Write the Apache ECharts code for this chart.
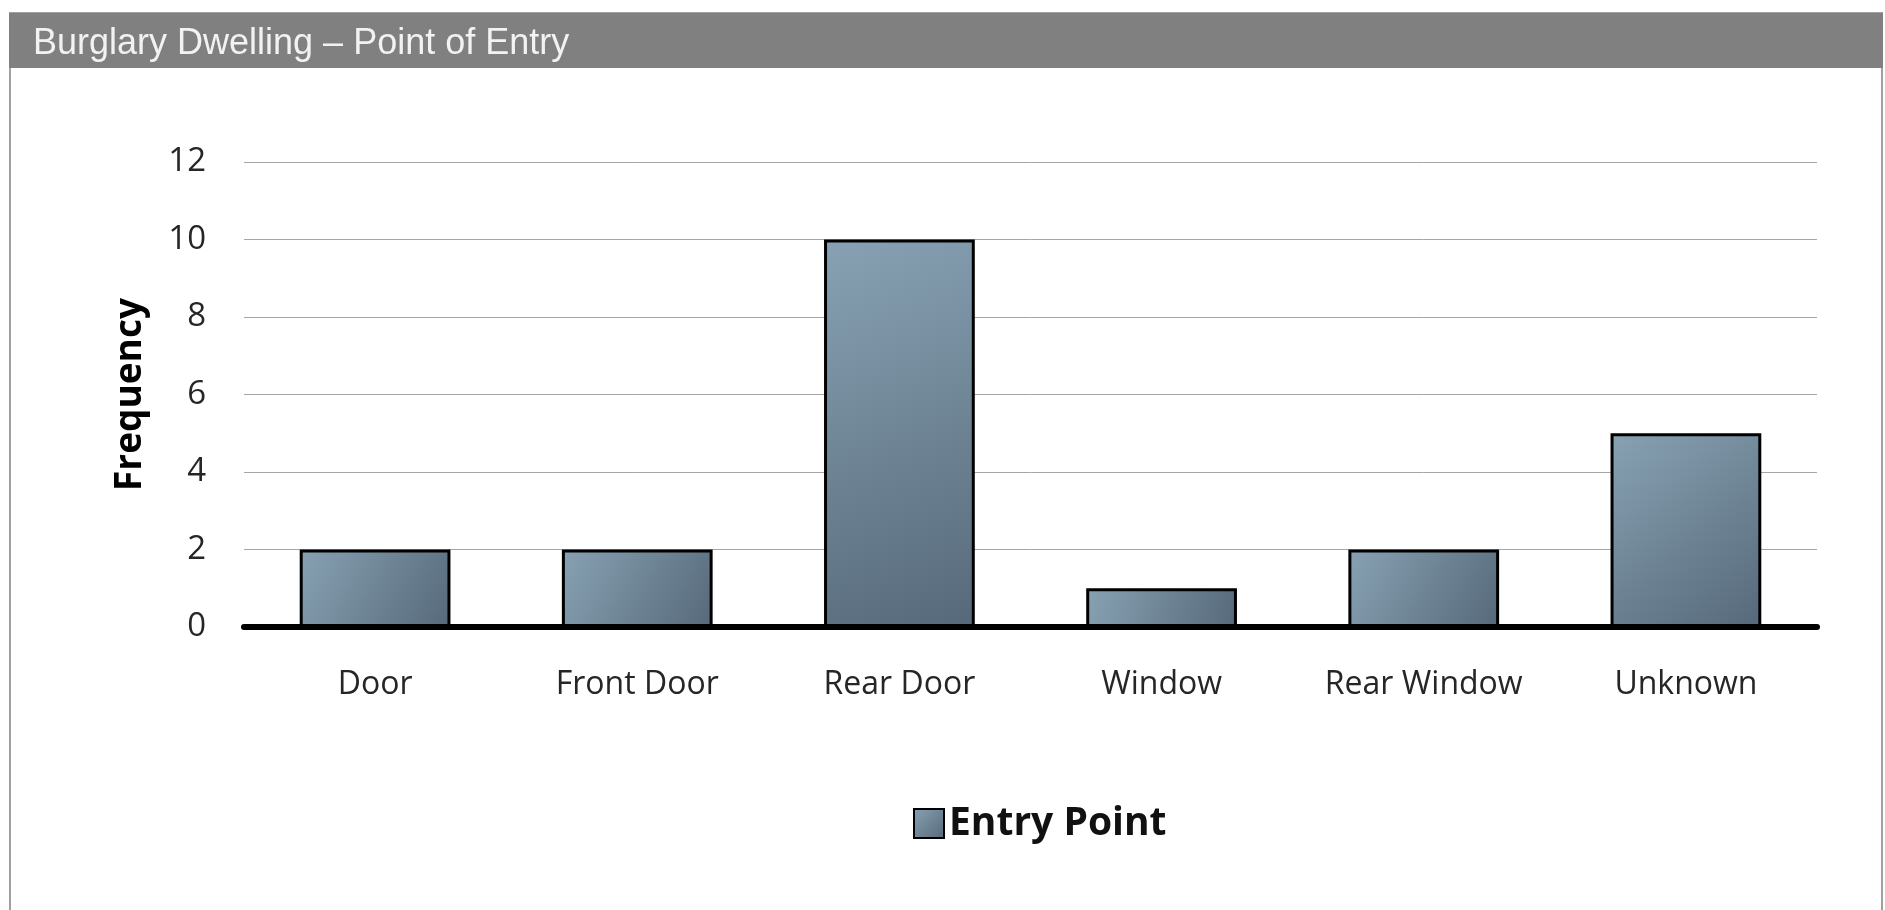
<!DOCTYPE html>
<html>
<head>
<meta charset="utf-8">
<title>Burglary Dwelling – Point of Entry</title>
<script src="https://cdn.jsdelivr.net/npm/echarts@6/dist/echarts.min.js"></script>
<style>
  html, body { margin:0; padding:0; background:#fff; }
  #chart { width:1885px; height:910px; }
</style>
</head>
<body>
<div id="chart"></div>
<script>
var categories = ['Door', 'Front Door', 'Rear Door', 'Window', 'Rear Window', 'Unknown'];
var entryCounts = [2, 2, 10, 1, 2, 5];
var yTicks = [0, 2, 4, 6, 8, 10, 12];

var barFill = new echarts.graphic.LinearGradient(0, 0, 1, 1, [
  {offset: 0, color: '#88a2b3'},
  {offset: 1, color: '#56697a'}
]);

var chart = echarts.init(document.getElementById('chart'));
var option = {
  backgroundColor: '#fff',
  animation: false,
  graphic: [
    // panel border + header bar
    {type: 'rect', shape: {x: 10, y: 13, width: 1872, height: 920},
      style: {fill: 'none', stroke: '#a0a0a0', lineWidth: 2}, z: -1},
    {type: 'rect', shape: {x: 9, y: 13, width: 1874, height: 55},
      style: {fill: '#808080'}, z: 0}
  ],
  title: {
    text: 'Burglary Dwelling – Point of Entry',
    left: 28, top: 21,
    textStyle: {color: '#f2f2f2', fontFamily: 'Liberation Sans', fontWeight: 'normal', fontSize: 36}
  },
  legend: {
    data: ['Entry Point'],
    left: 908, top: 799,
    icon: 'rect',
    itemWidth: 30, itemHeight: 29, itemGap: 10,
    textStyle: {fontFamily: 'Open Sans', fontWeight: 'bold', fontSize: 39, color: '#111'}
  },
  grid: {left: 244, right: 68, top: 162, bottom: 283, containLabel: false},
  xAxis: {
    type: 'category',
    data: categories,
    axisLine: {lineStyle: {color: '#000', width: 6}},
    axisTick: {show: false},
    axisLabel: {fontFamily: 'Open Sans', fontSize: 32, color: '#262626', margin: 38, lineHeight: 40}
  },
  yAxis: {
    type: 'value',
    min: 0, max: yTicks[yTicks.length - 1], interval: yTicks[1] - yTicks[0],
    name: 'Frequency',
    nameLocation: 'middle', nameRotate: 90, nameGap: 95,
    nameTextStyle: {fontFamily: 'Open Sans', fontWeight: 'bold', fontSize: 37, color: '#000'},
    axisLine: {show: false},
    axisTick: {show: false},
    axisLabel: {fontFamily: 'Open Sans', fontSize: 33, color: '#262626', margin: 38},
    splitLine: {lineStyle: {color: '#a6a6a6', width: 1}}
  },
  series: [{
    name: 'Entry Point',
    type: 'bar',
    data: entryCounts,
    barWidth: '57.5%',
    itemStyle: {color: barFill, borderColor: '#000', borderWidth: 3}
  }]
};
chart.setOption(option);
</script>
</body>
</html>
